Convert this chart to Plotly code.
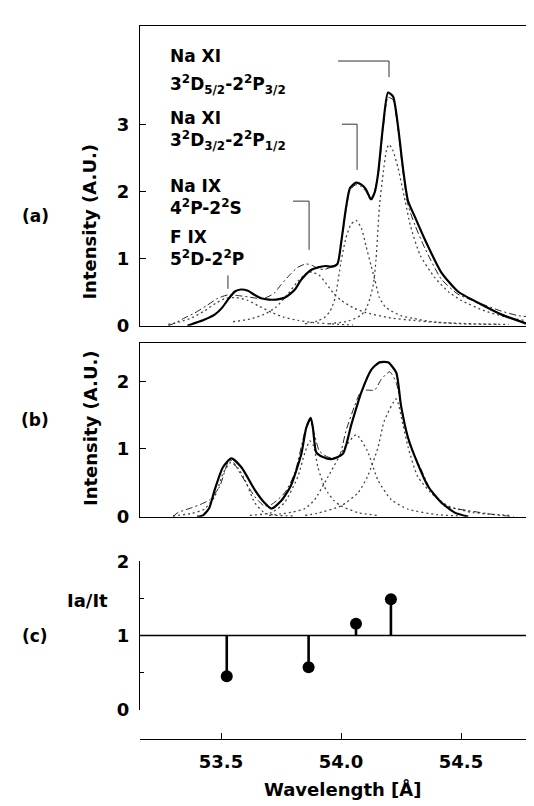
import plotly.graph_objects as go

# ---- panel (a): observed spectrum, fitted total and fitted components ----
wl_a_obs = [53.36, 53.383, 53.43, 53.475, 53.505, 53.529, 53.558, 53.583, 53.6125, 53.64, 53.667,
            53.70, 53.73, 53.767, 53.808, 53.833, 53.875, 53.904, 53.935, 53.96, 53.985, 54.0,
            54.021, 54.0375, 54.0625, 54.085, 54.104, 54.125, 54.14, 54.154, 54.175, 54.196,
            54.217, 54.2375, 54.258, 54.279, 54.308, 54.35, 54.417, 54.4875, 54.583, 54.667,
            54.767, 54.80]
int_a_obs = [0.0, 0.03, 0.09, 0.17, 0.27, 0.39, 0.51, 0.54, 0.52, 0.46, 0.41,
             0.39, 0.39, 0.42, 0.54, 0.68, 0.83, 0.87, 0.89, 0.88, 0.92, 1.22,
             1.76, 2.05, 2.13, 2.10, 2.03, 1.88, 1.98, 2.25, 2.97, 3.47,
             3.41, 2.97, 2.35, 1.86, 1.62, 1.28, 0.80, 0.51, 0.32, 0.17,
             0.04, 0.0]

wl_a_fit = [53.28, 53.308, 53.35, 53.39, 53.44, 53.4875, 53.529, 53.57, 53.6125, 53.65, 53.68,
            53.72, 53.75, 53.79, 53.82, 53.854, 53.88, 53.904, 53.93, 53.958, 53.985, 54.0,
            54.021, 54.0375, 54.0625, 54.085, 54.104, 54.125, 54.154, 54.175, 54.196, 54.217,
            54.2375, 54.258, 54.279, 54.308, 54.35, 54.417, 54.4875, 54.583, 54.667, 54.74, 54.84]
int_a_fit = [0.0, 0.04, 0.12, 0.19, 0.30, 0.41, 0.46, 0.45, 0.43, 0.41, 0.41,
             0.48, 0.61, 0.77, 0.87, 0.92, 0.90, 0.85, 0.84, 0.87, 0.93, 1.20,
             1.72, 2.02, 2.10, 2.07, 2.00, 1.86, 2.22, 2.93, 3.40, 3.36,
             2.92, 2.30, 1.80, 1.50, 1.15, 0.70, 0.47, 0.33, 0.22, 0.15, 0.12]

wl_a_c1 = [53.28, 53.33, 53.38, 53.43, 53.48, 53.52, 53.56, 53.61, 53.66, 53.71, 53.76, 53.82, 53.88, 53.95, 54.05]
int_a_c1 = [0.02, 0.06, 0.12, 0.22, 0.34, 0.41, 0.42, 0.38, 0.29, 0.20, 0.13, 0.08, 0.05, 0.03, 0.01]

wl_a_c2 = [53.55, 53.62, 53.68, 53.73, 53.78, 53.82, 53.86, 53.88, 53.91, 53.94, 53.97, 54.0, 54.05,
           54.10, 54.2, 54.3, 54.4, 54.55, 54.7]
int_a_c2 = [0.06, 0.10, 0.17, 0.28, 0.48, 0.66, 0.79, 0.80, 0.75, 0.62, 0.48, 0.38, 0.27,
            0.20, 0.12, 0.08, 0.05, 0.03, 0.02]

wl_a_c3 = [53.85, 53.90, 53.93, 53.955, 53.975, 54.0, 54.02, 54.04, 54.0625, 54.085, 54.104, 54.125,
           54.14, 54.16, 54.185, 54.21, 54.25, 54.30, 54.38, 54.5, 54.65]
int_a_c3 = [0.03, 0.07, 0.12, 0.22, 0.41, 0.95, 1.30, 1.50, 1.57, 1.45, 1.19, 0.90,
            0.70, 0.42, 0.28, 0.22, 0.15, 0.11, 0.06, 0.03, 0.02]

wl_a_c4 = [53.95, 54.03, 54.08, 54.10, 54.12, 54.135, 54.146, 54.16, 54.175, 54.19, 54.20, 54.215,
           54.2375, 54.267, 54.29, 54.33, 54.39, 54.45, 54.5, 54.6, 54.7, 54.8]
int_a_c4 = [0.03, 0.07, 0.15, 0.22, 0.40, 0.62, 0.99, 1.77, 2.25, 2.62, 2.70, 2.62,
            2.35, 1.86, 1.48, 1.05, 0.72, 0.50, 0.38, 0.22, 0.12, 0.06]

# ---- panel (b) ----
wl_b_obs = [53.40, 53.425, 53.45, 53.474, 53.508, 53.543, 53.585, 53.64, 53.68, 53.71, 53.75, 53.79,
            53.835, 53.855, 53.874, 53.883, 53.897, 53.925, 53.96, 54.008, 54.043, 54.085, 54.126,
            54.16, 54.196, 54.23, 54.25, 54.279, 54.32, 54.3625, 54.418, 54.474, 54.53]
int_b_obs = [0.0, 0.02, 0.12, 0.40, 0.73, 0.86, 0.73, 0.40, 0.21, 0.12, 0.23, 0.45,
             0.93, 1.31, 1.46, 1.31, 0.95, 0.88, 0.85, 0.93, 1.36, 1.84, 2.17,
             2.28, 2.28, 2.13, 1.64, 1.17, 0.78, 0.45, 0.21, 0.06, 0.0]

wl_b_fit = [53.30, 53.32, 53.376, 53.42, 53.453, 53.495, 53.529, 53.545, 53.58, 53.64, 53.68, 53.71,
            53.765, 53.807, 53.85, 53.87, 53.89, 53.91, 53.946, 53.99, 54.02, 54.057, 54.085, 54.11,
            54.14, 54.168, 54.203, 54.23, 54.258, 54.286, 54.335, 54.377, 54.43, 54.53, 54.64, 54.72]
int_b_fit = [0.0, 0.06, 0.13, 0.19, 0.25, 0.45, 0.80, 0.83, 0.64, 0.30, 0.16, 0.18,
             0.35, 0.64, 1.26, 1.43, 1.21, 0.97, 0.88, 0.88, 1.26, 1.64, 1.86, 1.87,
             1.87, 2.03, 2.14, 1.98, 1.50, 1.07, 0.69, 0.37, 0.16, 0.09, 0.03, 0.0]

wl_b_c1 = [53.30, 53.38, 53.43, 53.474, 53.51, 53.54, 53.57, 53.6, 53.64, 53.68, 53.73, 53.8]
int_b_c1 = [0.01, 0.05, 0.11, 0.30, 0.65, 0.80, 0.72, 0.54, 0.21, 0.06, 0.02, 0.01]

wl_b_c2 = [53.62, 53.71, 53.765, 53.82, 53.85, 53.87, 53.885, 53.904, 53.93, 53.946, 53.97, 54.0, 54.07, 54.15]
int_b_c2 = [0.02, 0.06, 0.21, 0.59, 0.95, 1.12, 1.05, 0.73, 0.45, 0.35, 0.24, 0.16, 0.06, 0.02]

wl_b_c3 = [53.70, 53.75, 53.80, 53.85, 53.89, 53.946, 54.015, 54.064, 54.11, 54.154, 54.21, 54.28, 54.4, 54.5]
int_b_c3 = [0.02, 0.04, 0.07, 0.12, 0.25, 0.59, 1.02, 1.21, 0.97, 0.54, 0.25, 0.11, 0.03, 0.01]

wl_b_c4 = [53.85, 53.9, 54.0, 54.07, 54.11, 54.154, 54.18, 54.23, 54.258, 54.28, 54.32, 54.376, 54.446, 54.55, 54.7]
int_b_c4 = [0.02, 0.05, 0.16, 0.35, 0.59, 1.02, 1.41, 1.74, 1.36, 1.02, 0.59, 0.35, 0.16, 0.06, 0.02]

# ---- panel (c): Ia/It ----
ratio_wl = [53.524, 53.865, 54.0625, 54.208]
ratio = [0.45, 0.57, 1.16, 1.49]
ref_wl = [53.1625, 54.80]
ref_level = 1.0

line_labels = ["Na XI", "3<sup>2</sup>D<sub>5/2</sub>-2<sup>2</sup>P<sub>3/2</sub>",
               "Na XI", "3<sup>2</sup>D<sub>3/2</sub>-2<sup>2</sup>P<sub>1/2</sub>",
               "Na IX", "4<sup>2</sup>P-2<sup>2</sup>S",
               "F IX", "5<sup>2</sup>D-2<sup>2</sup>P"]
x_ticks = [53.5, 54.0, 54.5]
x_ticktext = ["53.5", "54.0", "54.5"]

W, H = 534, 806
FONT = "DejaVu Sans, sans-serif"
XR = [53.1625, 54.8375]


def px(x):
    return x / W


def py(y):
    return 1 - y / H


def bold(size):
    return dict(family=FONT, size=size, color="black", weight="bold")


fig = go.Figure()

solid = dict(color="black", width=2.2, shape="spline", smoothing=0.6)
dashdot = dict(color="#222", width=1.0, dash="7px,3px,2px,3px", shape="spline", smoothing=0.6)
dotted = dict(color="#444", width=1.3, dash="2px,3px", shape="spline", smoothing=0.6)

for xs, ys in [(wl_a_c1, int_a_c1), (wl_a_c2, int_a_c2), (wl_a_c3, int_a_c3), (wl_a_c4, int_a_c4)]:
    fig.add_trace(go.Scatter(x=xs, y=ys, mode="lines", line=dotted, xaxis="x", yaxis="y"))
fig.add_trace(go.Scatter(x=wl_a_fit, y=int_a_fit, mode="lines", line=dashdot, xaxis="x", yaxis="y"))
fig.add_trace(go.Scatter(x=wl_a_obs, y=int_a_obs, mode="lines", line=solid, xaxis="x", yaxis="y"))

for xs, ys in [(wl_b_c1, int_b_c1), (wl_b_c2, int_b_c2), (wl_b_c3, int_b_c3), (wl_b_c4, int_b_c4)]:
    fig.add_trace(go.Scatter(x=xs, y=ys, mode="lines", line=dotted, xaxis="x2", yaxis="y2"))
fig.add_trace(go.Scatter(x=wl_b_fit, y=int_b_fit, mode="lines", line=dashdot, xaxis="x2", yaxis="y2"))
fig.add_trace(go.Scatter(x=wl_b_obs, y=int_b_obs, mode="lines", line=solid, xaxis="x2", yaxis="y2"))

# panel (c): reference level and stems
fig.add_trace(go.Scatter(x=ref_wl, y=[ref_level] * len(ref_wl), mode="lines",
                         line=dict(color="black", width=1.4), xaxis="x3", yaxis="y3"))
stem_x, stem_y = [], []
for w, r in zip(ratio_wl, ratio):
    stem_x += [w, w, None]
    stem_y += [ref_level, r, None]
fig.add_trace(go.Scatter(x=stem_x, y=stem_y, mode="lines", line=dict(color="black", width=2.6),
                         xaxis="x3", yaxis="y3"))
fig.add_trace(go.Scatter(x=ratio_wl, y=ratio, mode="markers", marker=dict(color="black", size=12),
                         xaxis="x3", yaxis="y3", cliponaxis=False))

dom_x = [px(132), 1]
frame_x = dict(range=XR, domain=dom_x, showline=True, mirror=True, linecolor="black", linewidth=1.2,
               showgrid=False, zeroline=False, ticks="", showticklabels=False)
frame_y = dict(showline=True, linecolor="black", linewidth=1.2, showgrid=False, zeroline=False,
               ticks="inside", ticklen=6, tickcolor="black", tickfont=bold(18), ticklabelstandoff=6)

fig.update_layout(
    width=W, height=H, margin=dict(l=0, r=0, t=0, b=0),
    paper_bgcolor="white", plot_bgcolor="white", showlegend=False,
    xaxis=dict(frame_x, anchor="y"),
    yaxis=dict(frame_y, domain=[py(315), py(7)], range=[0, 308 / 69], tickvals=[0, 1, 2, 3], anchor="x"),
    xaxis2=dict(frame_x, anchor="y2"),
    yaxis2=dict(frame_y, domain=[py(511), py(333)], range=[0, 178 / 69.5], tickvals=[0, 1, 2], anchor="x2"),
    xaxis3=dict(range=XR, domain=dom_x, anchor="free", position=py(739), showline=True,
                linecolor="black", linewidth=1.2, showgrid=False, zeroline=False,
                ticks="inside", ticklen=6, tickcolor="black", tickvals=x_ticks, ticktext=x_ticktext,
                tickfont=bold(18), ticklabelstandoff=7),
    yaxis3=dict(frame_y, domain=[py(709), py(557)], range=[0, 2], tickvals=[0, 1, 2], anchor="x3",
                minor=dict(ticks="inside", ticklen=4, tickvals=[0.5, 1.5], tickcolor="black")),
)

# leader brackets for the line identifications (panel a)
brackets = [(53.9875, 54.20, 3.94, 3.70), (54.004, 54.067, 3.0, 2.32),
            (53.80, 53.867, 1.855, 1.13)]
for x0, x1, y0, y1 in brackets:
    fig.add_shape(type="path", xref="x", yref="y", path=f"M {x0},{y0} L {x1},{y0} L {x1},{y1}",
                  line=dict(color="#333", width=1))
fig.add_shape(type="line", xref="x", yref="y", x0=53.529, x1=53.529, y0=0.75, y1=0.55,
              line=dict(color="#333", width=1))

lab_y = [38, 67, 102, 125, 171, 193, 224, 245]
for t, yy in zip(line_labels, lab_y):
    fig.add_annotation(x=px(160), y=py(yy), xref="paper", yref="paper", text=t, showarrow=False,
                       xanchor="left", yanchor="middle", font=bold(17))

for t, xx, yy, s in [("(a)", 27, 202, 17), ("(b)", 27, 412, 17), ("(c)", 27, 633, 17), ("Ia/It", 79, 597, 18)]:
    fig.add_annotation(x=px(xx), y=py(yy), xref="paper", yref="paper", text=t, showarrow=False,
                       xanchor="center", yanchor="middle", font=bold(s))
for yy in [208, 420]:
    fig.add_annotation(x=px(82), y=py(yy), xref="paper", yref="paper", text="Intensity (A.U.)",
                       textangle=-90, showarrow=False, xanchor="center", yanchor="middle", font=bold(18))
fig.add_annotation(x=px(334), y=py(791), xref="paper", yref="paper", text="Wavelength [Å]",
                   showarrow=False, xanchor="center", yanchor="middle", font=bold(18))

fig.write_html("out.html")
